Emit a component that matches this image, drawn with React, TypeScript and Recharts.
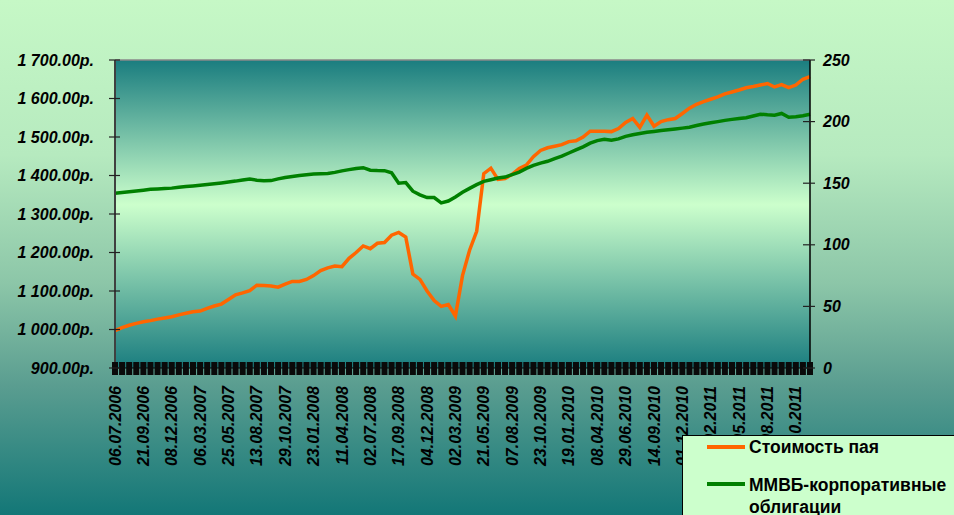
import { LineChart, Line, XAxis, YAxis, CartesianGrid, ReferenceLine, Legend } from 'recharts'

const FONT = '"Liberation Sans", Arial, Helvetica, sans-serif'

// one label every 4 points
const dateLabels = [
  '06.07.2006', '21.09.2006', '08.12.2006', '06.03.2007', '25.05.2007', '13.08.2007', '29.10.2007',
  '23.01.2008', '11.04.2008', '02.07.2008', '17.09.2008', '04.12.2008', '02.03.2009', '21.05.2009',
  '07.08.2009', '23.10.2009', '19.01.2010', '08.04.2010', '29.06.2010', '14.09.2010', '01.12.2010',
  '22.02.2011', '16.05.2011', '03.08.2011', '20.10.2011',
]

// Стоимость пая, руб.
const payValues = [
  997, 1005, 1011, 1016, 1020, 1023, 1027, 1030, 1033, 1038,
  1042, 1046, 1048, 1055, 1061, 1066, 1078, 1090, 1095, 1101,
  1115, 1114, 1113, 1110, 1118, 1125, 1125, 1130, 1140, 1153,
  1160, 1165, 1163, 1185, 1200, 1217, 1210, 1224, 1226, 1245,
  1252, 1240, 1144, 1130, 1100, 1075, 1060, 1065, 1035, 1140,
  1206, 1255, 1405, 1419, 1390, 1392, 1403, 1418, 1427, 1449,
  1465, 1472, 1476, 1480, 1488, 1490, 1500, 1515, 1515, 1515,
  1514, 1522, 1538, 1548, 1525, 1557, 1528, 1540, 1545, 1548,
  1561, 1575, 1585, 1592, 1598, 1604, 1612, 1617, 1622, 1628,
  1631, 1635, 1639, 1630, 1636, 1628, 1635, 1650, 1657,
]

// ММВБ-корпоративные облигации, индекс
const mmvbValues = [
  141.8, 142.5, 143, 143.6, 144.3, 145, 145.3, 145.6, 146, 146.8,
  147.4, 147.8, 148.3, 148.9, 149.5, 150.2, 151, 151.7, 152.6, 153.4,
  152.4, 152, 152.1, 153.5, 154.6, 155.5, 156.2, 156.8, 157.4, 157.6,
  157.9, 158.8, 160, 161, 162, 162.6, 160.6, 160.3, 160.2, 158.5,
  150, 150.5, 143.5, 140.5, 138.3, 138.3, 134, 135.5, 138.8, 142.6,
  145.8, 148.8, 151.5, 152.8, 154.2, 155, 157, 159, 162, 164.5,
  166.3, 167.8, 170, 172, 174.5, 177, 179.5, 182.5, 184.6, 185.6,
  184.8, 186, 188, 189.3, 190.3, 191.3, 192, 192.7, 193.3, 194,
  194.7, 195.4, 196.8, 198, 199, 200, 201, 201.8, 202.5, 203.1,
  204.5, 206, 205.5, 205.2, 206.6, 203.5, 204, 204.8, 205.9,
]

const leftTicks = [900, 1000, 1100, 1200, 1300, 1400, 1500, 1600, 1700]
const rightTicks = [0, 50, 100, 150, 200, 250]

const data = payValues.map((pay, i) => ({ i, pay, mmvb: mmvbValues[i] }))

const labelStyle = { fontFamily: FONT, fontSize: 16, fontWeight: 'bold' as const, fontStyle: 'italic' as const, fill: '#000' }

function formatRub(v: number) {
  const th = Math.floor(v / 1000)
  const rest = v % 1000
  return th > 0 ? `${th} ${String(rest).padStart(3, '0')}.00р.` : `${rest}.00р.`
}

function DateTick(props: any) {
  const { x, y, payload } = props
  const i = payload.value
  const ly = y + 18
  return (
    <g>
      <rect x={x - 3} y={y - 6} width={6} height={13} fill="#0a0a0a" />
      {i % 4 === 0 && (
        <text x={x} y={ly} transform={`rotate(-90, ${x}, ${ly})`} textAnchor="end" dy="0.35em" {...labelStyle}>
          {dateLabels[i / 4]}
        </text>
      )}
    </g>
  )
}

function LeftTick(props: any) {
  const { x, y, payload } = props
  return (
    <g>
      <line x1={x + 15} x2={x + 26} y1={y} y2={y} stroke="#222" strokeWidth={1.2} />
      <text x={x} y={y} dy="0.35em" textAnchor="end" {...labelStyle}>{formatRub(payload.value)}</text>
    </g>
  )
}

function RightTick(props: any) {
  const { x, y, payload } = props
  return (
    <g>
      <line x1={x - 20} x2={x - 8} y1={y} y2={y} stroke="#222" strokeWidth={1.2} />
      <text x={x} y={y} dy="0.35em" textAnchor="start" {...labelStyle}>{payload.value}</text>
    </g>
  )
}

function LegendBox() {
  return (
    <div
      style={{
        width: 290, height: 100, background: '#ccffcc', border: '1px solid #000', position: 'relative',
        fontFamily: FONT, fontWeight: 'bold', fontSize: 17.5, color: '#000', boxSizing: 'border-box',
      }}
    >
      <div style={{ position: 'absolute', left: 24, top: 9, width: 38, height: 4, background: '#ff6600' }} />
      <div style={{ position: 'absolute', left: 66, top: 1, lineHeight: '20px', whiteSpace: 'nowrap' }}>Стоимость пая</div>
      <div style={{ position: 'absolute', left: 24, top: 46, width: 38, height: 4, background: '#008000' }} />
      <div style={{ position: 'absolute', left: 66, top: 38, lineHeight: '22px', whiteSpace: 'nowrap' }}>
        ММВБ-корпоративные<br />облигации
      </div>
    </div>
  )
}

export default function App() {
  return (
    <div
      style={{
        position: 'fixed', left: 0, top: 0, width: 954, height: 515, overflow: 'hidden',
        background: 'linear-gradient(to bottom, #c6f8c6 0%, #b6eabf 30%, #8cc6a8 55%, #5a9d90 75%, #137777 100%)',
      }}
    >
      <LineChart width={954} height={515} data={data} margin={{ top: 60, right: 0, bottom: 0, left: 0 }}>
        <defs>
          <linearGradient id="plotBg" x1="0" y1="0" x2="0" y2="1">
            <stop offset="0%" stopColor="#1a7d7f" />
            <stop offset="47%" stopColor="#ccffcc" />
            <stop offset="100%" stopColor="#1a7d7f" />
          </linearGradient>
        </defs>
        <CartesianGrid yAxisId="left" horizontal={false} vertical={false} fill="url(#plotBg)" />
        <XAxis
          dataKey="i"
          type="category"
          interval={0}
          height={147}
          tickSize={0}
          tickMargin={0}
          tickLine={false}
          axisLine={{ stroke: '#000' }}
          tick={(p: any) => <DateTick {...p} />}
        />
        <YAxis
          yAxisId="left"
          domain={[900, 1700]}
          ticks={leftTicks}
          width={115}
          tickSize={6}
          tickMargin={15}
          tickLine={false}
          axisLine={{ stroke: '#404040', strokeWidth: 2 }}
          tick={(p: any) => <LeftTick {...p} />}
        />
        <YAxis
          yAxisId="right"
          orientation="right"
          domain={[0, 250]}
          ticks={rightTicks}
          width={144}
          tickSize={5}
          tickMargin={8}
          tickLine={false}
          axisLine={{ stroke: '#000', strokeWidth: 1.5 }}
          tick={(p: any) => <RightTick {...p} />}
        />
        <ReferenceLine yAxisId="left" y={1700} stroke="#8a8a8a" strokeWidth={1.5} />
        <Line
          yAxisId="left"
          type="linear"
          dataKey="pay"
          name="Стоимость пая"
          stroke="#ff6600"
          strokeWidth={3.5}
          dot={false}
          isAnimationActive={false}
        />
        <Line
          yAxisId="right"
          type="linear"
          dataKey="mmvb"
          name="ММВБ-корпоративные облигации"
          stroke="#008000"
          strokeWidth={3.5}
          dot={false}
          isAnimationActive={false}
        />
        <Legend
          layout="horizontal"
          align="center"
          verticalAlign="middle"
          content={() => <LegendBox />}
          wrapperStyle={{ position: 'absolute', left: 682, top: 435, width: 290, height: 100 }}
        />
      </LineChart>
    </div>
  )
}
